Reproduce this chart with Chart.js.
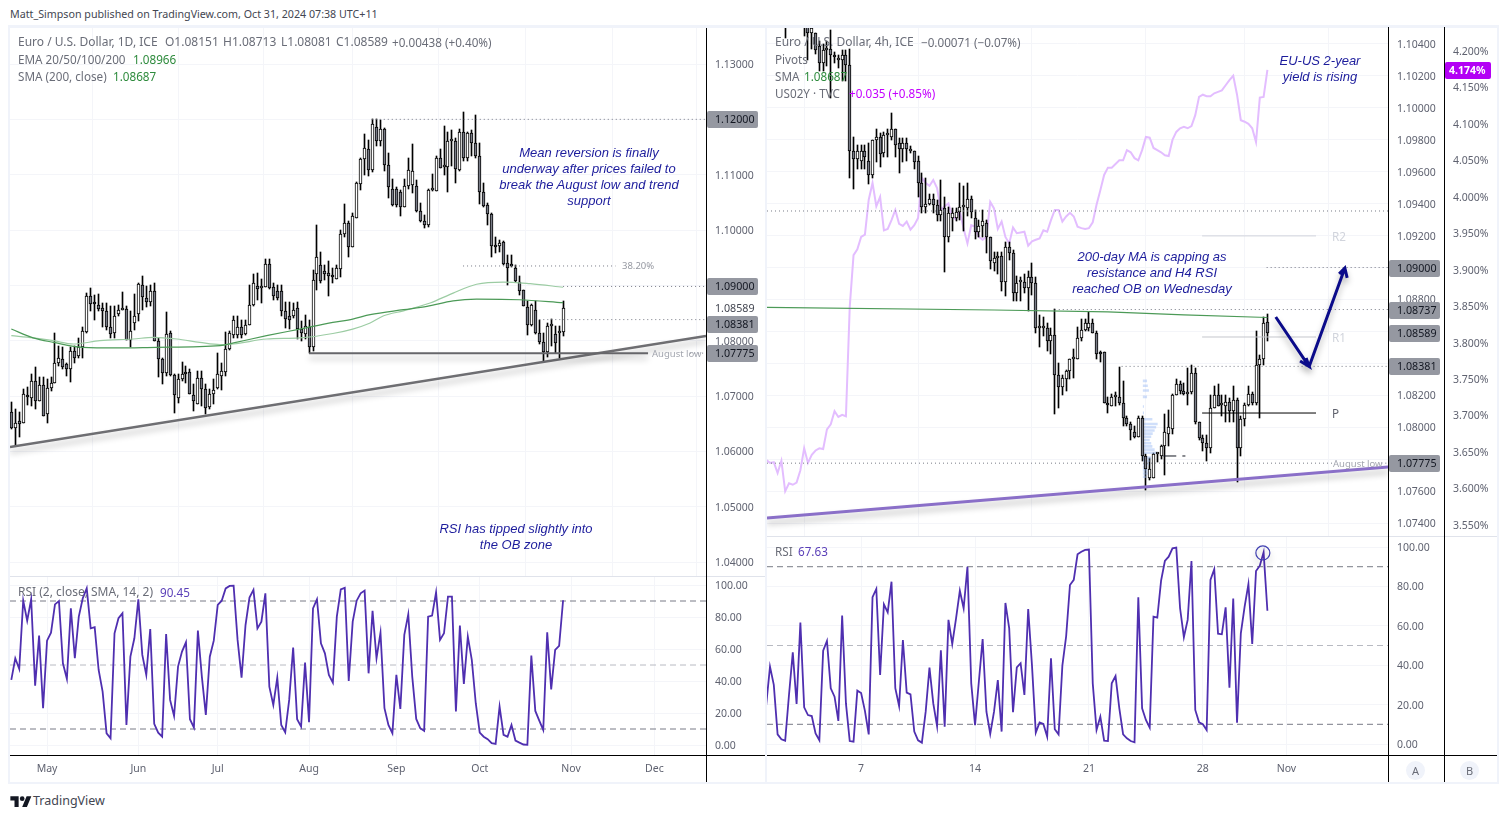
<!DOCTYPE html>
<html><head><meta charset="utf-8">
<script src="https://cdn.jsdelivr.net/npm/chart.js@4"></script>
<style>
html,body{margin:0;padding:0;background:#fff;width:1506px;height:818px;overflow:hidden;font-family:"Noto Sans",sans-serif}
canvas{position:absolute;display:block}
.t{position:absolute;white-space:pre;font-size:11.7px;line-height:16px;color:#6a6d78;z-index:5}
.n{position:absolute;white-space:pre;font:italic 13px/16px "Liberation Sans",sans-serif;color:#1c1c9c;text-align:center;transform:translateX(-50%);z-index:5}
.b{position:absolute;background:#000;z-index:4}
.f{position:absolute;background:#f0f3fa;z-index:1}
.l{position:absolute;background:#e0e3eb;z-index:4}
.c{position:absolute;width:19px;height:19px;border-radius:50%;background:#f0f3fa;color:#6a6d78;font-size:11px;line-height:19px;text-align:center;z-index:5}
</style></head><body>
<div class="t" style="left:10px;top:6px;color:#434651;font-size:10.7px">Matt_Simpson published on TradingView.com, Oct 31, 2024 07:38 UTC+11</div>
<div class="f" style="left:8px;top:25px;width:1491px;height:3px"></div>
<div class="f" style="left:8px;top:782px;width:1491px;height:2px"></div>
<div class="f" style="left:8px;top:25px;width:2px;height:759px"></div>
<div class="f" style="left:1497px;top:25px;width:2px;height:759px"></div>
<div class="f" style="left:765px;top:25px;width:2px;height:759px"></div>
<canvas id="lm" style="left:10px;top:28px" width="755" height="548"></canvas>
<canvas id="lr" style="left:10px;top:577px" width="755" height="205"></canvas>
<canvas id="rm" style="left:767px;top:27px" width="730" height="509"></canvas>
<canvas id="rr" style="left:767px;top:537px" width="730" height="245"></canvas>
<div class="l" style="left:10px;top:576px;width:755px;height:1px"></div>
<div class="l" style="left:767px;top:536px;width:730px;height:1px"></div>
<div class="b" style="left:706px;top:28px;width:1px;height:754px"></div>
<div class="b" style="left:1388px;top:27px;width:1px;height:755px"></div>
<div class="b" style="left:1444px;top:27px;width:1px;height:755px"></div>
<div class="b" style="left:10px;top:755px;width:755px;height:1px"></div>
<div class="b" style="left:767px;top:755px;width:730px;height:1px"></div>

<div class="t" style="left:18px;top:34px;font-size:12px">Euro / U.S. Dollar, 1D, ICE</div>
<div class="t" style="left:165px;top:34px;font-size:12px">O1.08151</div>
<div class="t" style="left:223px;top:34px;font-size:12px">H1.08713</div>
<div class="t" style="left:281px;top:34px;font-size:12px">L1.08081</div>
<div class="t" style="left:336px;top:34px;font-size:12px">C1.08589</div>
<div class="t" style="left:392px;top:34px">+0.00438 (+0.40%)</div>
<div class="t" style="left:18px;top:51px">EMA 20/50/100/200</div>
<div class="t" style="left:133px;top:51px;color:#2e8b3d">1.08966</div>
<div class="t" style="left:18px;top:68px">SMA (200, close)</div>
<div class="t" style="left:113px;top:68px;color:#2e8b3d">1.08687</div>
<div class="t" style="left:18px;top:584px;font-size:12px">RSI (2, close, SMA, 14, 2)</div>
<div class="t" style="left:160px;top:584px;color:#5a3fb8">90.45</div>
<div class="t" style="left:775px;top:34px;font-size:12px">Euro / U.S. Dollar, 4h, ICE</div>
<div class="t" style="left:921px;top:34px">−0.00071 (−0.07%)</div>
<div class="t" style="left:775px;top:51px">Pivots</div>
<div class="t" style="left:775px;top:68px">SMA</div>
<div class="t" style="left:804px;top:68px;color:#2e8b3d">1.08687</div>
<div class="t" style="left:775px;top:85px">US02Y · TVC</div>
<div class="t" style="left:849px;top:85px;color:#c400ff">+0.035 (+0.85%)</div>
<div class="t" style="left:775px;top:543px">RSI</div>
<div class="t" style="left:798px;top:543px;color:#5a3fb8">67.63</div>

<div class="n" style="left:589px;top:145px">Mean reversion is finally
underway after prices failed to
break the August low and trend
support</div>
<div class="n" style="left:516px;top:521px">RSI has tipped slightly into
the OB zone</div>
<div class="n" style="left:1320px;top:53px">EU-US 2-year
yield is rising</div>
<div class="n" style="left:1152px;top:249px">200-day MA is capping as
resistance and H4 RSI
reached OB on Wednesday</div>

<div class="t" style="left:622px;top:258px;font-size:9.5px;color:#9598a1">38.20%</div>
<div class="t" style="left:652px;top:346px;font-size:9.5px;color:#a3a6af">August low</div>
<div class="t" style="left:1333px;top:456px;font-size:9.5px;color:#a3a6af">August low</div>
<div class="t" style="left:1332px;top:228px;color:#d1d4dc">R2</div>
<div class="t" style="left:1332px;top:329px;color:#d1d4dc">R1</div>
<div class="t" style="left:1332px;top:405px;color:#5d606b">P</div>

<div class="c" style="left:1406px;top:761px">A</div>
<div class="c" style="left:1460px;top:761px">B</div>
<svg style="position:absolute;left:10px;top:794px" width="22" height="13" viewBox="0 0 36 22"><path fill="#131722" d="M14 22H7V11H0V4h14v18zM28 22h-8l7.5-18h8L28 22z"/><circle cx="20" cy="8" r="4" fill="#131722"/></svg>
<div class="t" style="left:33px;top:793px;font-size:12.5px;color:#434651">TradingView</div>

<script>
// ---------- Left pane: EURUSD daily ----------
const lOpen=[1.0671,1.0642,1.0655,1.0651,1.0702,1.0696,1.0728,1.0691,1.0720,1.0668,
1.0715,1.0724,1.0759,1.0767,1.0757,1.0749,1.0782,1.0772,1.0789,1.0815,
1.0881,1.0867,1.0864,1.0859,1.0854,1.0825,1.0814,1.0848,1.0855,1.0857,
1.0801,1.0832,1.0848,1.0901,1.0877,1.0869,1.0890,1.0800,1.0766,1.0741,
1.0813,1.0738,1.0697,1.0730,1.0743,1.0744,1.0702,1.0686,1.0733,1.0712,
1.0680,1.0704,1.0714,1.0737,1.0744,1.0785,1.0811,1.0810,1.0825,1.0812,
1.0829,1.0864,1.0899,1.0895,1.0897,1.0938,1.0897,1.0890,1.0890,1.0853,
1.0845,1.0844,1.0859,1.0821,1.0812,1.0825,1.0789,1.0920,1.0936,1.0926,
1.0922,1.0916,1.0911,1.0929,1.0993,1.1013,1.0970,1.1021,1.1084,1.1128,
1.1147,1.1109,1.1186,1.1160,1.1182,1.1117,1.1075,1.1075,1.1068,1.1042,
1.1080,1.1081,1.1080,1.1035,1.1017,1.1009,1.1072,1.1071,1.1130,1.1113,
1.1113,1.1161,1.1161,1.1109,1.1177,1.1130,1.1175,1.1157,1.1134,1.1068,
1.1045,1.1029,1.0972,1.0971,1.0978,1.0940,1.0936,1.0931,1.0906,1.0891,
1.0861,1.0829,1.0855,1.0814,1.0797,1.0780,1.0826,1.0812,1.0813,1.08151];
const lHigh=[1.0690,1.0677,1.0671,1.0712,1.0717,1.0740,1.0753,1.0734,1.0734,1.0731,
1.0735,1.0813,1.0791,1.0788,1.0760,1.0789,1.0791,1.0805,1.0825,1.0887,
1.0895,1.0883,1.0885,1.0868,1.0868,1.0862,1.0863,1.0865,1.0888,1.0862,
1.0853,1.0885,1.0905,1.0916,1.0899,1.0901,1.0904,1.0805,1.0769,1.0852,
1.0817,1.0739,1.0739,1.0762,1.0754,1.0749,1.0721,1.0745,1.0745,1.0721,
1.0712,1.0730,1.0777,1.0760,1.0816,1.0817,1.0844,1.0844,1.0838,1.0838,
1.0901,1.0921,1.0922,1.0911,1.0947,1.0947,1.0904,1.0901,1.0901,1.0869,
1.0869,1.0868,1.0870,1.0835,1.0847,1.0837,1.0927,1.1009,1.0961,1.0937,
1.0944,1.0931,1.0937,1.1000,1.1047,1.1017,1.1030,1.1087,1.1130,1.1173,
1.1163,1.1200,1.1200,1.1199,1.1184,1.1139,1.1093,1.1077,1.1072,1.1093,
1.1130,1.1155,1.1091,1.1048,1.1027,1.1074,1.1101,1.1133,1.1146,1.1188,
1.1178,1.1181,1.1166,1.1182,1.1213,1.1178,1.1181,1.1208,1.1157,1.1085,
1.1048,1.1030,1.0988,1.0982,1.0980,1.0955,1.0954,1.0936,1.0916,1.0892,
1.0871,1.0867,1.0871,1.0838,1.0814,1.0832,1.0839,1.0826,1.0826,1.08713];
const lLow=[1.0641,1.0610,1.0626,1.0651,1.0683,1.0682,1.0676,1.0691,1.0664,1.0651,
1.0709,1.0723,1.0755,1.0749,1.0736,1.0725,1.0760,1.0769,1.0768,1.0813,
1.0853,1.0837,1.0853,1.0825,1.0820,1.0805,1.0805,1.0844,1.0855,1.0801,
1.0789,1.0820,1.0835,1.0856,1.0861,1.0862,1.0799,1.0734,1.0721,1.0737,
1.0736,1.0669,1.0687,1.0728,1.0724,1.0703,1.0673,1.0685,1.0682,1.0667,
1.0676,1.0685,1.0713,1.0711,1.0737,1.0784,1.0805,1.0805,1.0805,1.0811,
1.0828,1.0862,1.0874,1.0868,1.0897,1.0894,1.0874,1.0873,1.0844,1.0823,
1.0821,1.0841,1.0803,1.0799,1.0803,1.07775,1.0782,1.0892,1.0905,1.0910,
1.0881,1.0904,1.0911,1.0915,1.0987,1.0951,1.0970,1.1021,1.1072,1.1099,
1.1098,1.1104,1.1151,1.1151,1.1107,1.1057,1.1044,1.1042,1.1026,1.1041,
1.1075,1.1066,1.1033,1.1015,1.1003,1.1006,1.1071,1.1071,1.1112,1.1100,
1.1069,1.1115,1.1085,1.1106,1.1124,1.1124,1.1133,1.1131,1.1047,1.1041,
1.1009,1.0952,1.0959,1.0961,1.0937,1.0900,1.0933,1.0906,1.0883,1.0862,
1.0811,1.0827,1.0812,1.0794,1.0762,1.0771,1.0790,1.0777,1.0768,1.08081];
const lClose=[1.0642,1.0651,1.0650,1.0704,1.0699,1.0728,1.0691,1.0720,1.0664,1.0715,
1.0724,1.0760,1.0769,1.0753,1.0749,1.0782,1.0769,1.0789,1.0818,1.0881,
1.0866,1.0866,1.0858,1.0853,1.0825,1.0812,1.0845,1.0855,1.0859,1.0802,
1.0817,1.0845,1.0903,1.0879,1.0869,1.0890,1.0799,1.0766,1.0742,1.0812,
1.0738,1.0702,1.0731,1.0739,1.0740,1.0703,1.0691,1.0733,1.0712,1.0679,
1.0704,1.0711,1.0740,1.0745,1.0785,1.0813,1.0838,1.0825,1.0811,1.0829,
1.0864,1.0904,1.0893,1.0899,1.0938,1.0895,1.0881,1.0878,1.0853,1.0839,
1.0838,1.0855,1.0821,1.0814,1.0826,1.0789,1.0910,1.0951,1.0907,1.0921,
1.0916,1.0915,1.0931,1.0992,1.1012,1.0970,1.1025,1.1085,1.1128,1.1148,
1.1109,1.1192,1.1160,1.1182,1.1117,1.1077,1.1045,1.1045,1.1041,1.1080,
1.1109,1.1107,1.1035,1.1017,1.1009,1.1072,1.1073,1.1130,1.1112,1.1118,
1.1161,1.1162,1.1110,1.1177,1.1130,1.1175,1.1157,1.1134,1.1068,1.1044,
1.1029,1.0972,1.0969,1.0976,1.0938,1.0932,1.0935,1.0907,1.0890,1.0862,
1.0829,1.0865,1.0814,1.0797,1.0780,1.0827,1.0828,1.0796,1.0815,1.08589];
const lSmaIdx=[0,5.5,10.6,18,26.5,36.6,52.6,56,64.3,72.7,81,86,90.4,98.8,104.7,111.3,117.2,128,139];
const lSmaVal=[1.0821,1.0805,1.0797,1.0788,1.0787,1.0788,1.0791,1.0796,1.0809,1.0821,1.0833,1.0839,1.0847,1.0856,1.0862,1.0872,1.0875,1.0874,1.08687];
const lEmaIdx=[0,5.5,10.6,15.6,22.3,30.7,35.8,41.7,47.5,52.6,56,64.3,72.7,81,86,90.4,93.8,98.8,105.5,111.3,117.2,123.9,130.7,139];
const lEmaVal=[1.0809,1.0805,1.0800,1.0794,1.0800,1.0803,1.0806,1.0803,1.0797,1.0793,1.0794,1.0803,1.0805,1.0813,1.0821,1.0832,1.0845,1.0854,1.0868,1.0886,1.0902,1.0906,1.0903,1.08966];
const lRsi=[40.7,54.2,47.5,90.2,77.7,91.1,37.1,68.4,23,65.2,70.2,87.9,90,51.1,41.3,85.4,54.2,80.2,91.7,97.9,
72.9,73.6,46.9,33.4,7.3,4.2,69.8,79.2,82.3,12.5,55.2,66.7,91.1,56.3,43.8,72.5,13.2,7.7,5.2,69.4,
28.2,18.2,49,58.4,64.2,16.1,10.9,71.5,42.7,18.8,55.2,65.2,87.5,90.2,97.9,99.4,99.6,65.7,42.1,75,
92.1,96.9,72.9,77.1,94.8,36.5,25,42.1,12.5,7.9,28.2,60.9,16.1,11.5,51.5,14.2,85.4,91.1,63.6,57.3,
43.8,39,80.2,97.3,98.2,40,77.1,90.2,94.8,96.5,44.8,83.8,54.2,70.2,23,12.5,7.3,43.8,22.5,68.8,
81.7,42.7,16.3,10.5,8.8,80.2,80.9,95.4,65.7,69.8,92.7,92.7,20.9,74.6,38.2,67.7,53.2,26.1,7.7,5.2,
3.6,1.1,0.7,24,6.3,5.2,12.5,2.8,1.5,0.3,0.1,55.9,21.3,15.2,9.4,70.4,34.8,59.4,61.9,90.45];
const lPriceTicks=[1.13,1.12,1.11,1.10,1.09,1.08,1.07,1.06,1.05,1.04];
const rsiTicks=[100,80,60,40,20,0];
const lMonthIdx=[9,32,52,75,97,118,141,162];
const lMonthLbl=['May','Jun','Jul','Aug','Sep','Oct','Nov','Dec'];
const lTrend=[[-0.33,1.06078],[175,1.08084]];
const lAugLow=[[75,1.07775],[160.4,1.07775]];
const lDots=[[[90.8,1.12],[175,1.12]],[[113.8,1.0935],[152.2,1.0935]],[[139,1.0898],[175,1.0898]],[[133,1.08381],[175,1.08381]],[[171,1.07775],[175,1.07775]]];
const lBadges=[['1.12000',1.12],['1.09000',1.0899],['1.08381',1.08295],['1.07775',1.07775]];

// ---------- Right pane: EURUSD 4h + US02Y ----------
const rStart=5;
const rOpen=[1.1060,1.1068,1.1075,1.1062,1.1070,1.1068,1.1058,1.1047,1.1047,1.1039,1.1028,1.1036,1.1037,1.1033,1.1030,1.1030,1.1033,1.1027,
1.0973,1.0968,1.0967,1.0973,1.0967,1.0958,1.0980,1.0982,1.0972,1.0983,1.0982,1.0987,1.0978,1.0974,1.0978,1.0973,1.0973,1.0967,1.0953,1.0938,1.0940,1.0943,
1.0939,1.0933,1.0937,1.0919,1.0931,1.0931,1.0935,1.0938,1.0937,1.0943,1.0931,1.0922,1.0926,1.0928,1.0919,1.0903,1.0906,1.0907,1.0891,1.0913,
1.0909,1.0884,1.0891,1.0891,1.0887,1.0894,1.0890,1.0862,1.0862,1.0862,1.0854,1.0858,1.0833,1.0825,1.0830,1.0835,1.0843,1.0843,
1.0856,1.0861,1.0862,1.0865,1.0859,1.0847,1.0847,1.0815,1.0813,1.0819,1.0819,1.0815,1.0806,1.0802,1.0797,1.0794,1.0806,1.0782,1.0768,1.0768,1.0783,1.0782,
1.0788,1.0796,1.0799,1.0820,1.0827,1.0823,1.0821,1.0822,1.0834,1.0803,1.0793,1.0790,1.0787,1.0812,1.0820,1.0814,1.0813,1.0816,1.0810,1.0817,
1.0787,1.0805,1.0814,1.0821,1.0815,1.0839,1.0843,1.0866];
const rHigh=[1.1066,1.1075,1.1080,1.1070,1.1076,1.1072,1.1066,1.1058,1.1047,1.1042,1.1040,1.1042,1.1049,1.1035,1.1033,1.1036,1.1036,1.1037,
1.0982,1.0977,1.0977,1.0977,1.0978,1.0980,1.0987,1.0984,1.0985,1.0987,1.0997,1.0987,1.0981,1.0981,1.0981,1.0976,1.0973,1.0970,1.0959,1.0956,1.0946,1.0946,
1.0942,1.0955,1.0944,1.0938,1.0937,1.0937,1.0953,1.0951,1.0953,1.0945,1.0936,1.0930,1.0936,1.0930,1.0919,1.0910,1.0910,1.0910,1.0916,1.0916,
1.0911,1.0895,1.0894,1.0896,1.0898,1.0903,1.0894,1.0870,1.0869,1.0865,1.0862,1.0874,1.0840,1.0833,1.0836,1.0843,1.0849,1.0863,
1.0868,1.0868,1.0872,1.0868,1.0860,1.0848,1.0847,1.0819,1.0821,1.0822,1.0838,1.0829,1.0807,1.0803,1.0801,1.0807,1.0807,1.0783,1.0781,1.0784,1.0784,1.0789,
1.0808,1.0811,1.0821,1.0830,1.0829,1.0828,1.0837,1.0839,1.0837,1.0803,1.0795,1.0795,1.0820,1.0826,1.0827,1.0820,1.0820,1.0818,1.0826,1.0818,
1.0807,1.0815,1.0826,1.0822,1.0860,1.0845,1.0869,1.0871];
const rLow=[1.1044,1.1060,1.1065,1.1058,1.1060,1.1045,1.1030,1.1037,1.1034,1.1023,1.1023,1.1026,1.1006,1.1028,1.1025,1.1017,1.1017,1.0956,
1.0949,1.0962,1.0962,1.0962,1.0952,1.0956,1.0966,1.0963,1.0969,1.0969,1.0980,1.0969,1.0959,1.0966,1.0967,1.0972,1.0962,1.0944,1.0934,1.0934,1.0939,1.0934,
1.0929,1.0929,1.0897,1.0916,1.0923,1.0929,1.0930,1.0923,1.0932,1.0931,1.0918,1.0919,1.0919,1.0909,1.0899,1.0898,1.0896,1.0885,1.0882,1.0905,
1.0879,1.0879,1.0879,1.0884,1.0873,1.0883,1.0859,1.0850,1.0857,1.0848,1.0846,1.0808,1.0812,1.0820,1.0823,1.0830,1.0831,1.0843,
1.0854,1.0860,1.0860,1.0859,1.0843,1.0841,1.0815,1.0809,1.0813,1.0813,1.0814,1.0801,1.0801,1.0792,1.0793,1.0794,1.0779,1.0761,1.0767,1.0768,1.0778,1.0780,
1.0770,1.0788,1.0796,1.0820,1.0821,1.0820,1.0814,1.0821,1.0802,1.0792,1.0785,1.0779,1.0784,1.0812,1.0813,1.0807,1.0803,1.0803,1.0803,1.0766,
1.0782,1.0801,1.0813,1.0814,1.0814,1.0806,1.0839,1.0854];
const rClose=[1.1063,1.1072,1.1068,1.1068,1.1064,1.1062,1.1047,1.1050,1.1036,1.1028,1.1036,1.1037,1.1033,1.1032,1.1030,1.1033,1.1027,1.0973,
1.0968,1.0973,1.0973,1.0969,1.0958,1.0980,1.0982,1.0971,1.0983,1.0984,1.0987,1.0977,1.0974,1.0978,1.0974,1.0973,1.0966,1.0953,1.0938,1.0940,1.0943,1.0939,
1.0933,1.0936,1.0919,1.0934,1.0934,1.0935,1.0938,1.0938,1.0943,1.0935,1.0922,1.0926,1.0929,1.0919,1.0904,1.0906,1.0906,1.0891,1.0913,1.0909,
1.0884,1.0890,1.0891,1.0887,1.0894,1.0890,1.0862,1.0862,1.0862,1.0854,1.0858,1.0833,1.0825,1.0831,1.0835,1.0843,1.0843,1.0856,
1.0861,1.0865,1.0865,1.0859,1.0846,1.0846,1.0815,1.0814,1.0819,1.0819,1.0815,1.0806,1.0802,1.0798,1.0794,1.0806,1.0782,1.0774,1.0774,1.0783,1.0783,1.0788,
1.0797,1.0800,1.0820,1.0827,1.0823,1.0821,1.0822,1.0834,1.0803,1.0793,1.0790,1.0787,1.0812,1.0820,1.0813,1.0814,1.0816,1.0810,1.0817,1.0787,
1.0805,1.0814,1.0821,1.0815,1.0839,1.0843,1.0865,1.08589];
const rYield=[3.639,3.635,3.636,3.621,3.638,3.596,3.607,3.605,3.608,3.625,3.655,3.635,3.646,3.652,3.655,3.654,3.681,3.688,3.706,3.698,3.701,3.699,3.849,
3.920,3.928,3.945,3.948,3.996,4.019,3.987,4.000,3.954,3.956,3.968,3.982,3.963,3.960,3.966,3.955,3.961,3.971,4.026,4.019,4.015,4.023,4.012,3.982,3.987,3.991,
3.973,3.969,3.980,3.956,3.936,3.961,3.959,3.945,3.941,3.945,3.993,3.984,3.956,3.966,3.945,3.936,3.958,3.950,3.951,3.952,3.933,3.939,3.941,3.943,3.954,3.952,
3.968,3.982,3.982,3.966,3.973,3.978,3.973,3.959,
3.957,3.956,3.957,3.965,3.989,4.009,4.030,4.040,4.040,4.045,4.050,4.050,4.064,4.061,4.053,4.050,4.064,4.082,4.081,4.067,4.064,4.061,4.057,4.056,4.078,4.089,
4.094,4.096,4.094,4.097,4.112,4.137,4.140,4.138,4.138,4.142,4.144,4.146,4.153,4.160,4.166,4.140,4.105,4.103,4.100,4.094,4.075,4.136,4.137,4.174];
const rSmaIdx=[0,60,90,110,132];
const rSmaVal=[1.0875,1.08734,1.08722,1.08703,1.08687];
const rRsi=[19.8,39.3,30,4.9,2.4,1.7,24.9,46.5,20.3,61.6,18.6,14.7,14.2,5.4,1.9,47.4,52.3,28.3,24,11.7,
65.2,20.6,1.5,1.2,27.1,25.9,16.8,4.9,74.5,78.7,35,70.9,66.8,82.4,28.3,19.3,52.8,26.1,25.2,6.3,
1.9,0.7,16.4,38.8,20.6,9.1,47.6,8.8,63,50.8,63.8,77.8,68.9,90,30.8,9.6,31.6,53.3,16.4,5.1,
16.4,32.5,6.3,71.6,58.7,16.1,38.9,41,24.9,68.5,39.8,5.8,11,10.2,3.7,43.5,7.5,4.9,39.8,54.8,
80.7,83.3,96.3,97.6,98.5,98.7,30.8,7.1,13.9,1.7,1.5,30.8,34.5,18.1,4.9,2.9,1.5,0.9,74.5,18.1,
12.2,8.3,64.6,64.1,82.9,92.9,95.1,99.3,99.7,68.9,54.2,63,92.9,17.3,11,10,7.1,83.3,88.7,56,
55.7,69.4,28.6,73.9,10.8,56.2,69.7,81.2,50.8,87.8,90.5,97.3,67.63];
const rPriceTicks=[1.104,1.102,1.100,1.098,1.096,1.094,1.092,1.090,1.088,1.086,1.084,1.082,1.080,1.078,1.076,1.074];
const rYieldTicks=[4.20,4.15,4.10,4.05,4.00,3.95,3.90,3.85,3.80,3.75,3.70,3.65,3.60,3.55];
const rDayIdx=[25,55,85,115,137];
const rDayLbl=['7','14','21','28','Nov'];
const rTrend=[[0.21,1.07431],[163.8,1.07751]];
const rDots=[[[0.21,1.09354],[163.8,1.09354]],[[131.8,1.09],[163.8,1.09]],[[76,1.08737],[163.8,1.08737]],[[93.6,1.08381],[163.8,1.08381]],[[0.21,1.07775],[149,1.07775]],[[162,1.07775],[163.8,1.07775]]];
const rPivotR2=[[114.8,1.09198],[144.8,1.09198]];
const rPivotR1=[[114.8,1.08565],[144.8,1.08565]];
const rPivotP=[[114.8,1.08089],[144.8,1.08089]];
const rBadges=[['1.09000',1.09],['1.08737',1.08737],['1.08589',1.08589],['1.08381',1.08381],['1.07775',1.07775]];
const rArrow=[[134.2,1.0869],[143,1.0838],null,[140.6,1.08415],[143,1.0838],[142.2,1.08433],null,[143,1.0838],[152.4,1.08997],null,[150.9,1.0896],[152.4,1.08997],[153,1.08935]];
const vpBase=99.2;
const vpPrice=[1.0829,1.0826,1.0823,1.0819,1.0813,1.0809,1.0805,1.0802,1.0800,1.0798,1.0796,1.0794,1.0792,1.0790,1.0788,1.0786,1.0784,1.0781,1.0779,1.0777,1.0775,1.0773,1.0771,1.0769];
const vpLen=[1.1,1.3,1.6,1.1,0.3,0.3,2.5,3.9,3.5,3.1,2.6,2.2,1.8,2.2,2.5,3.1,3.9,2.2,1.8,1.6,1.2,1.2,1.3,0.9];
const rsiCircle=[130.8,97];

// ---------- helpers ----------
const FONT='"Noto Sans",sans-serif';
const TICK='#5f6270', GRID='#f4f5f9';
const seg=a=>a.map(p=>p?{x:p[0],y:p[1]}:{x:NaN,y:null});
const line=(data,color,w,extra)=>Object.assign({type:'line',data,borderColor:color,backgroundColor:color,borderWidth:w,pointRadius:0,spanGaps:false,tension:0,order:10},extra||{});
const dots=list=>list.map(s=>line(seg(s),'#787b86',1,{borderDash:[1,3]}));
const candles=(o,h,l,c,start)=>[
  {type:'bar',data:o.map((_,i)=>({x:i+start,y:[Math.min(l[i],h[i]),Math.max(l[i],h[i])]})),backgroundColor:'#000',barThickness:1,order:40},
  {type:'bar',data:o.map((_,i)=>({x:i+start,y:[o[i],c[i]]})),backgroundColor:o.map((_,i)=>c[i]>=o[i]?'#ffffff':'#787b86'),borderColor:'#000',borderWidth:1,borderSkipped:false,barThickness:3,minBarLength:2,order:30}
];
const pixelSnap={id:'pixelSnap',beforeDatasetsDraw(ch){ch.getSortedVisibleDatasetMetas().forEach(m=>{if(m.type==='bar')m.data.forEach(e=>{e.x=Math.floor(e.x)+.5;e.y=Math.round(e.y);e.base=Math.round(e.base);});});}};
const shadow={id:'shadow',beforeDatasetDraw(ch,a){const d=ch.data.datasets[a.index];if(d.shade){const c=ch.ctx;c.save();c.shadowColor='rgba(0,0,0,.28)';c.shadowBlur=6;c.shadowOffsetY=5;}},afterDatasetDraw(ch,a){if(ch.data.datasets[a.index].shade)ch.ctx.restore();}};
const badges={id:'badges',afterDraw(ch,_,o){const c=ch.ctx;c.save();const s=ch.scales.y;c.textBaseline='middle';
  (o.items||[]).forEach(b=>{const y=Math.round(s.getPixelForValue(b[1]));c.fillStyle='#9598a1';c.beginPath();c.roundRect(s.left+1,y-8,o.w,17,2);c.fill();c.fillStyle='#131722';c.font='10.7px '+FONT;c.textAlign='left';c.fillText(b[0],s.left+o.tx,y+1);});
  (o.plain||[]).forEach(b=>{const y=s.getPixelForValue(b[1]);c.fillStyle='#434651';c.font='10.7px '+FONT;c.textAlign='left';c.fillText(b[0],s.left+o.tx,y+1);});
  if(o.yield){const y2=ch.scales.y2,y=Math.round(y2.getPixelForValue(o.yield[1]));c.fillStyle='#b300f5';c.beginPath();c.roundRect(y2.left+1,y-8,46,17,2);c.fill();c.fillStyle='#fff';c.font='bold 10.5px '+FONT;c.textAlign='left';c.fillText(o.yield[0],y2.left+5,y+1);}
  c.restore();}};
const noPad=s=>{s.paddingTop=0;s.paddingBottom=0;s.paddingLeft=0;s.paddingRight=0;};
const yAxis=(min,max,ticks,fmt,w,weight,grid)=>({type:'linear',position:'right',min,max,weight,
  afterBuildTicks:s=>{s.ticks=ticks.map(v=>({value:v}));},afterFit:s=>{s.width=w;noPad(s);},
  border:{display:false},grid:{display:grid,color:GRID,drawTicks:false,drawOnChartArea:grid},
  ticks:{padding:9,labelOffset:1,color:TICK,font:{family:FONT,size:10.5},callback:fmt,autoSkip:false}});
const xAxis=(min,max,idx,lbl,showLabels)=>({type:'linear',min,max,offset:false,
  afterBuildTicks:s=>{s.ticks=idx.map(v=>({value:v}));},afterFit:s=>{s.height=showLabels?27:0;noPad(s);},
  border:{display:false},grid:{color:GRID,drawTicks:false},
  ticks:{display:showLabels,autoSkip:false,maxRotation:0,minRotation:0,padding:8,color:TICK,font:{family:FONT,size:10.5},
    callback:v=>{const k=idx.indexOf(v);return k>=0?lbl[k]:'';}}});
const base=(scales,padRight,extra)=>({responsive:false,animation:false,devicePixelRatio:1,events:[],
  layout:{autoPadding:false,padding:{left:0,top:0,bottom:0,right:padRight}},
  datasets:{bar:{grouped:false}},
  plugins:Object.assign({legend:{display:false},tooltip:{enabled:false},title:{display:false}},extra||{}),scales});
const plugins=[pixelSnap,shadow,badges];
const f5=v=>v.toFixed(5), f2=v=>v.toFixed(2), fp=v=>v.toFixed(3)+'%';
const level=(v,a,b,col)=>line([{x:a,y:v},{x:b,y:v}],col,1,{borderDash:[6,4]});

// ---------- left main ----------
new Chart(document.getElementById('lm'),{data:{datasets:[
  line(lSmaIdx.map((x,i)=>({x,y:lSmaVal[i]})),'#4c9a57',1.2,{order:20,cubicInterpolationMode:'monotone'}),
  line(lEmaIdx.map((x,i)=>({x,y:lEmaVal[i]})),'#9ccca3',1.2,{order:21,cubicInterpolationMode:'monotone'}),
  ...candles(lOpen,lHigh,lLow,lClose,0),
  ...dots(lDots),
  line(seg(lAugLow),'#66666a',2,{shade:true}),
  line(seg(lTrend),'#6e6e72',2.4,{shade:true})
]},options:base({
  x:xAxis(-0.33,175,lMonthIdx,lMonthLbl,false),
  y:yAxis(1.03747,1.13651,lPriceTicks,f5,59,0,true)
},0,{badges:{items:lBadges,plain:[['1.08589',1.08589]],w:51,tx:9}}),plugins});

// ---------- left RSI ----------
new Chart(document.getElementById('lr'),{data:{datasets:[
  level(90,-0.33,175,'#787b86'),level(50,-0.33,175,'#b8bac2'),level(10,-0.33,175,'#787b86'),
  line(lRsi.map((y,i)=>({x:i,y})),'#4f2fb0',1.8,{order:5})
]},options:base({
  x:xAxis(-0.33,175,lMonthIdx,lMonthLbl,true),
  y:yAxis(-6.25,105,rsiTicks,f2,59,0,true)
},0),plugins});

// ---------- right main ----------
new Chart(document.getElementById('rm'),{data:{datasets:[
  line(rYield.map((y,i)=>({x:i,y})),'#e3bdff',2,{order:60,yAxisID:'y2'}),
  line(vpPrice.flatMap((p,i)=>[{x:vpBase,y:p},{x:vpBase+vpLen[i],y:p},{x:NaN,y:null}]),'rgba(150,185,245,.45)',2.6,{order:35}),
  ...candles(rOpen,rHigh,rLow,rClose,rStart),
  line(rSmaIdx.map((x,i)=>({x,y:rSmaVal[i]})),'#4c9a57',1.2,{order:20}),
  ...dots(rDots),
  line(seg(rPivotR2),'#d1d4dc',1),line(seg(rPivotR1),'#c4c6cc',1),line(seg(rPivotP),'#000',1),
  line(seg([[104.6,1.0782],[108,1.0782],null,[109.6,1.0782],[110.4,1.0782]]),'#131722',1),
  line(seg(rTrend),'#8a6fc8',3,{shade:true}),
  line(seg(rArrow),'#0b0b8a',3,{shade:true,order:4})
]},options:base({
  x:xAxis(0.21,163.76,rDayIdx,rDayLbl,false),
  y:yAxis(1.07319,1.10506,rPriceTicks,f5,56,0,true),
  y2:Object.assign(yAxis(3.5347,4.2329,rYieldTicks,fp,53,1,false),{})
},0,{badges:{items:rBadges,w:51,tx:9,yield:['4.174%',4.174]}}),plugins});

// ---------- right RSI ----------
new Chart(document.getElementById('rr'),{data:{datasets:[
  level(90,0.21,163.76,'#787b86'),level(50,0.21,163.76,'#b8bac2'),level(10,0.21,163.76,'#787b86'),
  line(rRsi.map((y,i)=>({x:i,y})),'#4f2fb0',1.8,{order:5}),
  {type:'scatter',data:[{x:rsiCircle[0],y:rsiCircle[1]}],pointRadius:7,borderColor:'#3f3fb0',borderWidth:1.2,backgroundColor:'rgba(255,255,255,0)',order:3,shade:true}
]},options:base({
  x:xAxis(0.21,163.76,rDayIdx,rDayLbl,true),
  y:yAxis(-5.58,105.08,rsiTicks,f2,56,0,true)
},53),plugins});
</script>
</body></html>
